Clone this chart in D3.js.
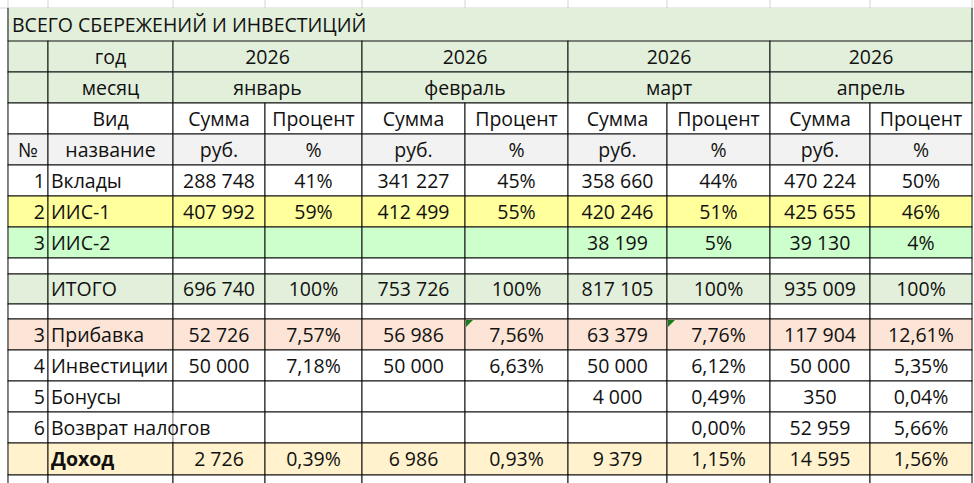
<!DOCTYPE html>
<html><head><meta charset="utf-8">
<script src="https://cdn.jsdelivr.net/npm/d3@7"></script>
<style>body{margin:0;background:#fff}text{font-family:"Open Sans","Liberation Sans",sans-serif;font-size:19.5px;fill:#111}</style>
</head><body><svg width="974" height="483"></svg>
<script>
const title = "ВСЕГО СБЕРЕЖЕНИЙ И ИНВЕСТИЦИЙ";
const years = ["2026", "2026", "2026", "2026"];
const months = ["январь", "февраль", "март", "апрель"];
const rowNums = ["1", "2", "3", "", "", "", "3", "4", "5", "6", ""];
const rowNames = ["Вклады", "ИИС-1", "ИИС-2", "", "ИТОГО", "", "Прибавка", "Инвестиции", "Бонусы", "Возврат налогов", "Доход"];
// per month: [sum, percent] for each row
const janVals = [["288 748","41%"],["407 992","59%"],["",""],["",""],["696 740","100%"],["",""],["52 726","7,57%"],["50 000","7,18%"],["",""],["",""],["2 726","0,39%"]];
const febVals = [["341 227","45%"],["412 499","55%"],["",""],["",""],["753 726","100%"],["",""],["56 986","7,56%"],["50 000","6,63%"],["",""],["",""],["6 986","0,93%"]];
const marVals = [["358 660","44%"],["420 246","51%"],["38 199","5%"],["",""],["817 105","100%"],["",""],["63 379","7,76%"],["50 000","6,12%"],["4 000","0,49%"],["","0,00%"],["9 379","1,15%"]];
const aprVals = [["470 224","50%"],["425 655","46%"],["39 130","4%"],["",""],["935 009","100%"],["",""],["117 904","12,61%"],["50 000","5,35%"],["350","0,04%"],["52 959","5,66%"],["14 595","1,56%"]];
const monthVals = [janVals, febVals, marVals, aprVals];

// layout
const colX = [8, 48, 173, 265, 362, 465, 568, 667, 770, 870, 972];
const bodyTop = [165, 196, 227, 258, 274, 304, 319, 350, 381, 412, 443, 475];
const rowFill = ["#fff", "#ffff9c", "#ccffcc", "#fff", "#e2efda", "#fff", "#fce4d6", "#fff", "#fff", "#fff", "#fff2cc"];

const svg = d3.select("svg");
const x = i => colX[i];

// background spreadsheet gridlines
const g0 = svg.append("g");
colX.forEach(v => g0.append("line").attr("x1", v).attr("x2", v).attr("y1", 0).attr("y2", 483).attr("stroke", "#d4d4d4"));
g0.append("line").attr("x1", 0).attr("x2", 974).attr("y1", 8).attr("y2", 8).attr("stroke", "#d4d4d4");

const gRect = svg.append("g"), gText = svg.append("g");

function cell(x0, x1, y0, y1, fill, txt, align, bold) {
  gRect.append("rect").attr("x", x0).attr("y", y0).attr("width", x1 - x0).attr("height", y1 - y0)
    .attr("fill", fill).attr("stroke", "#111").attr("stroke-width", 1);
  if (!txt) return;
  const t = gText.append("text").attr("y", (y0 + y1) / 2).attr("dy", "0.36em").text(txt);
  if (bold) t.attr("font-weight", "bold");
  if (align === "left") t.attr("x", x0 + 3);
  else if (align === "right") t.attr("x", x1 - 3).attr("text-anchor", "end");
  else t.attr("x", (x0 + x1) / 2).attr("text-anchor", "middle");
}

// title
gRect.append("rect").attr("x", 8).attr("y", 8).attr("width", 964).attr("height", 33).attr("fill", "#e2efda");
gRect.append("line").attr("x1", 8).attr("x2", 8).attr("y1", 8).attr("y2", 41).attr("stroke", "#111");
gRect.append("line").attr("x1", 972).attr("x2", 972).attr("y1", 8).attr("y2", 41).attr("stroke", "#111");
gText.append("text").attr("x", 12).attr("y", 25).attr("dy", "0.36em").text(title);

// header rows
const green = "#e2efda";
cell(x(0), x(1), 41, 72, green); cell(x(1), x(2), 41, 72, green, "год");
cell(x(0), x(1), 72, 103, green); cell(x(1), x(2), 72, 103, green, "месяц");
cell(x(0), x(1), 103, 134, "#fff"); cell(x(1), x(2), 103, 134, "#fff", "Вид");
cell(x(0), x(1), 134, 165, "#f2f2f2", "№"); cell(x(1), x(2), 134, 165, "#f2f2f2", "название");
months.forEach((m, i) => {
  const a = x(2 + 2 * i), b = x(3 + 2 * i), c = x(4 + 2 * i);
  cell(a, c, 41, 72, green, years[i]);
  cell(a, c, 72, 103, green, m);
  cell(a, b, 103, 134, "#fff", "Сумма"); cell(b, c, 103, 134, "#fff", "Процент");
  cell(a, b, 134, 165, "#f2f2f2", "руб."); cell(b, c, 134, 165, "#f2f2f2", "%");
});

// body
rowNames.forEach((name, r) => {
  const y0 = bodyTop[r], y1 = bodyTop[r + 1], f = rowFill[r];
  cell(x(0), x(1), y0, y1, f, rowNums[r], "right");
  cell(x(1), x(2), y0, y1, f, name, "left", name === "Доход");
  monthVals.forEach((vals, i) => {
    cell(x(2 + 2 * i), x(3 + 2 * i), y0, y1, f, vals[r][0]);
    cell(x(3 + 2 * i), x(4 + 2 * i), y0, y1, f, vals[r][1]);
  });
});
// trailing empty row
colX.slice(0, -1).forEach((v, i) => cell(v, colX[i + 1], 475, 490, "#fff"));
// overflowing text: hide inner border behind "Возврат налогов"
gRect.append("line").attr("x1", x(2)).attr("x2", x(2)).attr("y1", bodyTop[9] + 1).attr("y2", bodyTop[10] - 1).attr("stroke", "#fff");

// green error markers
[[5, 6], [7, 6]].forEach(([c, r]) => {
  const px = x(c) + 1, py = bodyTop[r] + 1;
  gText.append("path").attr("d", `M${px},${py}h7l-7,7z`).attr("fill", "#1e7b1e");
});
</script></body></html>
